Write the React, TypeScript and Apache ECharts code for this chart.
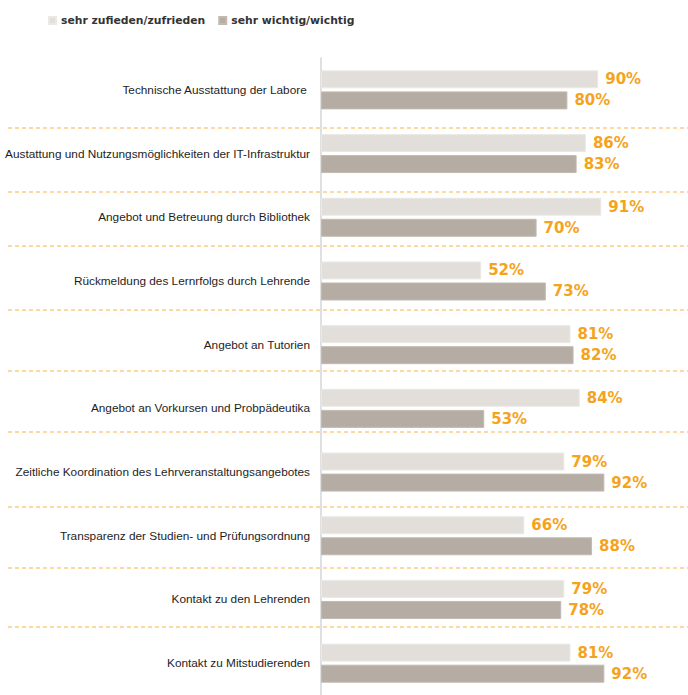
import React, { useEffect, useRef } from "react";
import * as echarts from "echarts";

const categories = [
  "Technische Ausstattung der Labore ",
  "Austattung und Nutzungsmöglichkeiten der IT-Infrastruktur",
  "Angebot und Betreuung durch Bibliothek",
  "Rückmeldung des Lernrfolgs durch Lehrende",
  "Angebot an Tutorien",
  "Angebot an Vorkursen und Probpädeutika",
  "Zeitliche Koordination des Lehrveranstaltungsangebotes",
  "Transparenz der Studien- und Prüfungsordnung",
  "Kontakt zu den Lehrenden",
  "Kontakt zu Mitstudierenden",
];
const seriesNames = ["sehr zufieden/zufrieden", "sehr wichtig/wichtig"];
const zufrieden = [90, 86, 91, 52, 81, 84, 79, 66, 79, 81];
const wichtig = [80, 83, 70, 73, 82, 53, 92, 88, 78, 92];

const separatorY = [128, 192, 246, 310, 371, 432, 507, 568, 627];

export default function App() {
  const ref = useRef<HTMLDivElement>(null);
  useEffect(() => {
    if (!ref.current) return;
    const chart = echarts.init(ref.current, null, { renderer: "svg" });
    const labelStyle = {
      show: true,
      position: "right",
      distance: 7,
      formatter: "{c}%",
      color: "#F5A31C",
      fontWeight: "bold",
      fontSize: 15,
      fontFamily: "DejaVu Sans",
    };
    chart.setOption({
      animation: false,
      backgroundColor: "#ffffff",
      legend: {
        top: 10,
        left: 43,
        itemWidth: 7,
        itemHeight: 7,
        itemGap: 13,
        icon: "rect",
        textStyle: {
          fontSize: 10.8,
          fontWeight: "bold",
          color: "#333",
          fontFamily: "DejaVu Sans",
        },
        data: seriesNames,
      },
      grid: { left: 321, right: 59, top: 58, height: 643 },
      xAxis: {
        type: "value",
        min: 0,
        max: 100,
        show: false,
      },
      yAxis: {
        type: "category",
        inverse: true,
        data: categories,
        axisLine: { show: true, lineStyle: { color: "#d6d6d6", width: 1.5 } },
        axisTick: { show: false },
        axisLabel: {
          margin: 11,
          fontSize: 11.8,
          color: "#1e1e1e",
          fontFamily: "Liberation Sans",
        },
      },
      series: [
        {
          name: seriesNames[0],
          type: "bar",
          data: zufrieden,
          barWidth: 18,
          barGap: "17%",
          itemStyle: { color: "#e2dfdb", borderColor: "#ebe9e6", borderWidth: 1 },
          label: labelStyle,
        },
        {
          name: seriesNames[1],
          type: "bar",
          data: wichtig,
          barWidth: 18,
          itemStyle: { color: "#b5aca3", borderColor: "#c2bab2", borderWidth: 1 },
          label: labelStyle,
        },
      ],
      graphic: separatorY.map((y) => ({
        type: "line",
        silent: true,
        z: 10,
        shape: { x1: 8, y1: y, x2: 688, y2: y },
        style: { stroke: "#F7B445", lineWidth: 1.2, lineDash: [4, 3] },
      })),
    });
    return () => chart.dispose();
  }, []);
  return (
    <div
      ref={ref}
      style={{ position: "absolute", left: 0, top: 0, width: 688, height: 695 }}
    />
  );
}
